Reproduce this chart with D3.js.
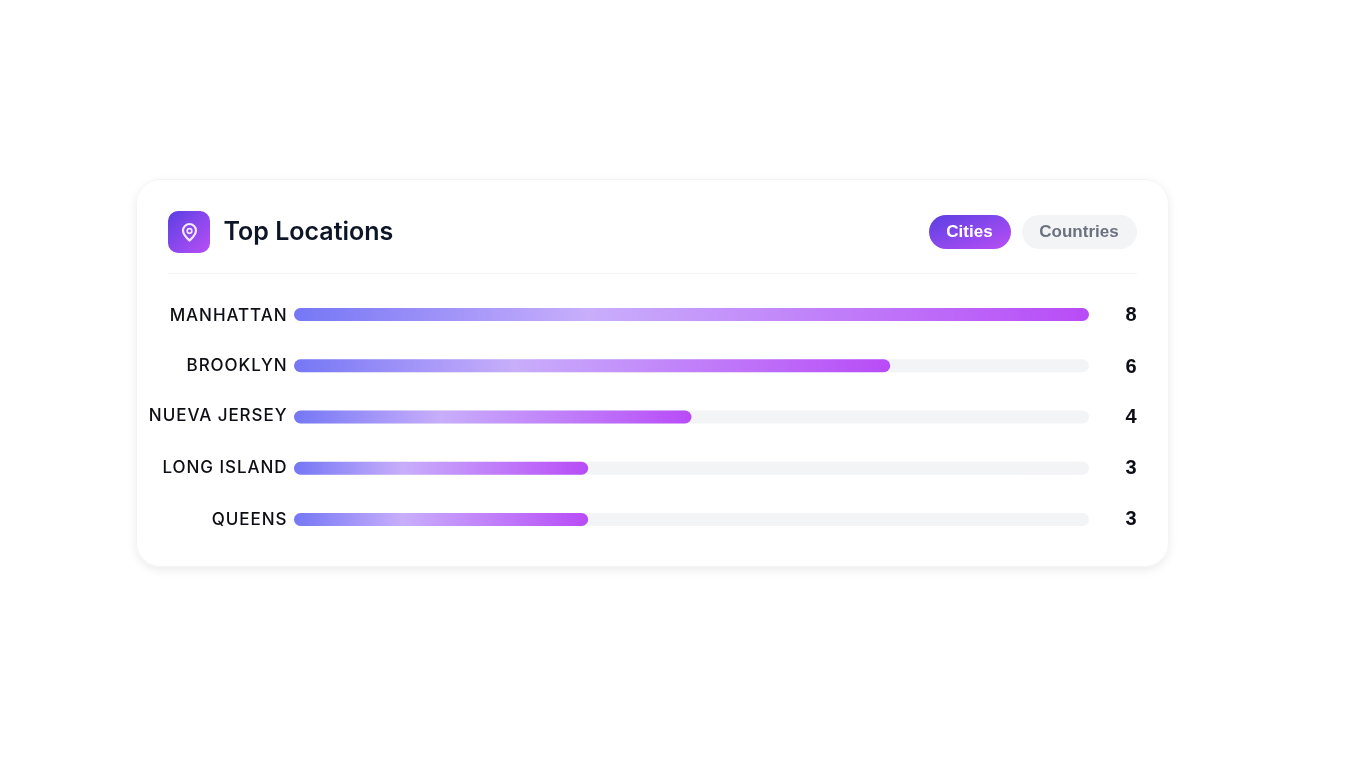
<!DOCTYPE html>
<html><head><meta charset="utf-8">
<script src="https://cdn.jsdelivr.net/npm/d3@7/dist/d3.min.js"></script>
<style>html,body{margin:0;padding:0;background:#fff;overflow:hidden}svg{display:block}</style>
</head><body><svg id="c" width="1366" height="768"></svg>
<script>
const categories = ["MANHATTAN","BROOKLYN","NUEVA JERSEY","LONG ISLAND","QUEENS"];
const values = [8,6,4,3,3];
const fillPercent = [100,75,50,37,37];
const title = "Top Locations";
const tabs = ["Cities","Countries"];

const svg = d3.select("#c");
const defs = svg.append("defs");
const sh = defs.append("filter").attr("id","shadow").attr("x","-5%").attr("y","-5%").attr("width","110%").attr("height","115%");
sh.append("feDropShadow").attr("dx",0).attr("dy",3).attr("stdDeviation",4).attr("flood-color","#000").attr("flood-opacity",0.08);
const soft = defs.append("filter").attr("id","soft").attr("x","-5%").attr("y","-20%").attr("width","110%").attr("height","140%");
soft.append("feGaussianBlur").attr("stdDeviation",0.45);

const g1 = defs.append("linearGradient").attr("id","accent").attr("x1",0).attr("y1",0).attr("x2",1).attr("y2",1);
g1.append("stop").attr("offset","0%").attr("stop-color","#5a3fe2");
g1.append("stop").attr("offset","100%").attr("stop-color","#b950f6");
const g2 = defs.append("linearGradient").attr("id","bar").attr("x1",0).attr("y1",0).attr("x2",1).attr("y2",0);
g2.append("stop").attr("offset","0%").attr("stop-color","#7577f5");
g2.append("stop").attr("offset","37%").attr("stop-color","#c8aefb");
g2.append("stop").attr("offset","100%").attr("stop-color","#b84cf7");

svg.append("rect").attr("x",136.5).attr("y",179.5).attr("width",1032).attr("height",387).attr("rx",24)
  .attr("fill","#fff").attr("stroke","#f3f4f6").attr("filter","url(#shadow)");

const root = svg.append("g").attr("filter","url(#soft)");
root.append("rect").attr("x",168).attr("y",211).attr("width",42).attr("height",42).attr("rx",10).attr("fill","url(#accent)");
root.append("path").attr("transform","translate(189.5,232)")
  .attr("d","M0,8.5 C-2,6.5 -6.5,3 -6.5,-1.5 A6.5,6.5 0 0 1 6.5,-1.5 C6.5,3 2,6.5 0,8.5 Z")
  .attr("fill","none").attr("stroke","#f3e8ff").attr("stroke-width",2.2).attr("stroke-linejoin","round");
root.append("circle").attr("cx",189.5).attr("cy",231).attr("r",2.3).attr("fill","none").attr("stroke","#f3e8ff").attr("stroke-width",1.7);
root.append("text").attr("x",223.5).attr("y",240).text(title)
  .attr("font-family","Inter").attr("font-weight",600).attr("font-size",25).attr("fill","#111827");

const tabX = [929,1022], tabW = [82,115];
tabs.forEach((t,i)=>{
  root.append("rect").attr("x",tabX[i]).attr("y",215).attr("width",tabW[i]).attr("height",34).attr("rx",17)
    .attr("fill", i===0 ? "url(#accent)" : "#f3f4f6");
  root.append("text").attr("x",tabX[i]+tabW[i]/2-0.5).attr("y",237).attr("text-anchor","middle").text(t)
    .attr("font-family","Liberation Sans").attr("font-weight",700).attr("font-size",17)
    .attr("fill", i===0 ? "#fff" : "#6b7280");
});
root.append("line").attr("x1",168).attr("x2",1137).attr("y1",273.5).attr("y2",273.5).attr("stroke","#f3f4f6");

const labelBaseline = [321,370.5,421,473,525];
const valueBaseline = [320.5,372.5,422.5,473.5,525];
const x = d3.scaleLinear().domain([0,100]).range([294,1089]);
const y = d3.scalePoint().domain(categories).range([314.5,519.5]);
const rows = root.selectAll("g.row").data(categories).join("g").attr("class","row");
rows.append("rect").attr("x",x(0)).attr("width",x(100)-x(0)).attr("y",c=>y(c)-6.5).attr("height",13).attr("rx",6.5).attr("fill","#f3f4f6");
rows.append("rect").attr("x",x(0)).attr("width",(c,i)=>x(fillPercent[i])-x(0)).attr("y",c=>y(c)-6.5).attr("height",13).attr("rx",6.5).attr("fill","url(#bar)");
rows.append("text").attr("x",287.5).attr("y",(c,i)=>labelBaseline[i]).attr("text-anchor","end").text(c=>c)
  .attr("font-family","Inter").attr("font-weight",500).attr("font-size",17).attr("letter-spacing",0.95).attr("fill","#0b0b12");
rows.append("text").attr("x",1136.5).attr("y",(c,i)=>valueBaseline[i]).attr("text-anchor","end").text((c,i)=>values[i])
  .attr("font-family","Liberation Sans").attr("font-weight",700).attr("font-size",20).attr("fill","#0b0b16");
</script></body></html>
